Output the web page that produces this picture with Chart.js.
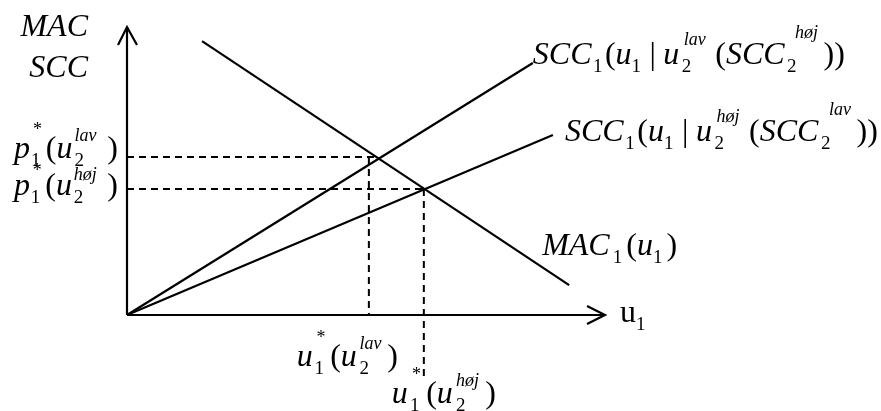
<!DOCTYPE html>
<html>
<head>
<meta charset="utf-8">
<script src="https://cdn.jsdelivr.net/npm/chart.js@4.4.1/dist/chart.umd.min.js"></script>
<style>
  html, body { margin: 0; padding: 0; background: #fff; }
</style>
</head>
<body>
<canvas id="chart" width="881" height="411"></canvas>
<script>
// ---- data (u1 on x, price on y, both 0..100) ----
const macCurve = [[15.7, 95.1], [92.5, 10.4]];   // MAC1(u1)
const sccLavCurve = [[0, 0], [84.9, 87.5]];      // SCC1(u1 | u2^lav(SCC2^høj))
const sccHojCurve = [[0, 0], [89.1, 62.5]];      // SCC1(u1 | u2^høj(SCC2^lav))
const priceLav = 54.9, priceHoj = 43.75;         // p1*(u2^lav), p1*(u2^høj)
const crossLavX = 52.5;                          // where the lav price guide ends
const uLav = 50.6, uHoj = 62.1;                  // u1*(u2^lav), u1*(u2^høj)
const hojDrop = -22.6;                           // høj guide runs on below the axis

const SERIF = '"Liberation Serif", "Times New Roman", serif';
const MAIN = 32, SUB = 19, SUP = 18;

// tiny rich-text helpers: italic, normal, script stack, gap
const I = (s, ls) => ({ m: s, i: true, ls: ls || 0 });
const N = (s) => ({ m: s, i: false, ls: 0 });
const S = (sb, sp, uy, spx) => ({ sb, sp, uy: uy || -17, spx: spx || 0 });
const G = (n) => ({ g: n });

function fnt(size, italic) { return (italic ? 'italic ' : '') + size + 'px ' + SERIF; }

function runLayout(ctx, toks, draw, x, y, extra) {
  let cx = x;
  const nGaps = toks.filter(t => t.g !== undefined).length || 1;
  for (const t of toks) {
    if (t.g !== undefined) { cx += t.g + extra / nGaps; continue; }
    if (t.m !== undefined) {
      ctx.font = fnt(MAIN, t.i);
      for (let k = 0; k < t.m.length; k++) {
        if (draw) ctx.fillText(t.m[k], cx, y);
        cx += ctx.measureText(t.m[k]).width + (k < t.m.length - 1 ? t.ls : 0);
      }
      continue;
    }
    let w = 0;
    if (t.sb) {
      ctx.font = fnt(SUB, false);
      if (draw) ctx.fillText(t.sb, cx, y + 8);
      w = Math.max(w, ctx.measureText(t.sb).width);
    }
    if (t.sp) {
      const roman = t.sp === '*';
      ctx.font = fnt(SUP, !roman);
      if (draw) ctx.fillText(t.sp, cx + t.spx, y + t.uy);
      w = Math.max(w, ctx.measureText(t.sp).width + t.spx);
    }
    cx += w;
  }
  return cx - x;
}

function drawRich(ctx, toks, x, y, opt) {
  opt = opt || {};
  const natural = runLayout(ctx, toks, false, 0, 0, 0);
  const extra = opt.w ? opt.w - natural : 0;
  const width = natural + extra;
  const sx = opt.align === 'right' ? x - width : x;
  runLayout(ctx, toks, true, sx, y, extra);
}

const pLavLabel = [I('p'), G(0), S('1', '*', -23, 2), G(3), N('('), I('u'), G(1), S('2', 'lav', -17), G(10), N(')')];
const pHojLabel = [I('p'), G(0), S('1', '*', -19, 2), G(3), N('('), I('u'), G(1), S('2', 'høj', -15), G(10), N(')')];
const uLavLabel = [I('u'), G(0), S('1', '*', -23, 2), G(3), N('('), I('u'), G(1), S('2', 'lav', -17), G(4), N(')')];
const uHojLabel = [I('u'), G(0), S('1', '*', -23, 2), G(3), N('('), I('u'), G(1), S('2', 'høj', -17), G(4), N(')')];
const sccLavLabel = [I('SCC'), G(0), S('1'), G(1), N('('), I('u'), S('1'), G(7), N('|'), G(6), I('u'), G(1),
  S('2', 'lav', -19, 2), G(8), N('('), I('SCC'), G(1), S('2', 'høj', -26, 8), G(4), N('))')];
const sccHojLabel = [I('SCC'), G(0), S('1'), G(1), N('('), I('u'), S('1'), G(7), N('|'), G(6), I('u'), G(1),
  S('2', 'høj', -19, 2), G(8), N('('), I('SCC'), G(1), S('2', 'lav', -26, 8), G(4), N('))')];
const macLabel = [I('MAC'), G(0), S('1'), G(1), N('('), I('u'), S('1'), G(1), N(')')];
const xLabel = [N('u'), S('1')];

// axes with open arrowheads plus all the formula labels
const diagramPlugin = {
  id: 'diagram',
  afterDatasetsDraw(chart) {
    const ctx = chart.ctx, xs = chart.scales.x, ys = chart.scales.y;
    const x0 = xs.getPixelForValue(0), y0 = ys.getPixelForValue(0);
    const xEnd = xs.getPixelForValue(100), yEnd = ys.getPixelForValue(100);
    ctx.save();
    ctx.strokeStyle = '#000';
    ctx.lineWidth = 2.2;
    ctx.lineCap = 'butt';
    ctx.beginPath();
    ctx.moveTo(x0, y0); ctx.lineTo(x0, yEnd);
    ctx.moveTo(x0, y0); ctx.lineTo(xEnd, y0);
    ctx.stroke();
    ctx.beginPath();
    ctx.moveTo(x0 - 9, yEnd + 18); ctx.lineTo(x0, yEnd); ctx.lineTo(x0 + 10, yEnd + 18);
    ctx.moveTo(xEnd - 18, y0 - 9); ctx.lineTo(xEnd, y0); ctx.lineTo(xEnd - 18, y0 + 9);
    ctx.stroke();

    ctx.fillStyle = '#000';
    ctx.textBaseline = 'alphabetic';
    ctx.textAlign = 'left';
    drawRich(ctx, [I('MAC')], x0 - 39, 36, { align: 'right' });
    drawRich(ctx, [I('SCC')], x0 - 39, 77, { align: 'right' });
    drawRich(ctx, pLavLabel, x0 - 9, ys.getPixelForValue(priceLav) + 1, { align: 'right', w: 104 });
    drawRich(ctx, pHojLabel, x0 - 9, ys.getPixelForValue(priceHoj) + 6, { align: 'right', w: 104 });
    drawRich(ctx, uLavLabel, xs.getPixelForValue(uLav) - 72, y0 + 51, { w: 101 });
    drawRich(ctx, uHojLabel, xs.getPixelForValue(uHoj) - 32, y0 + 88, { w: 104 });
    const lavEnd = sccLavCurve[sccLavCurve.length - 1];
    const hojEnd = sccHojCurve[sccHojCurve.length - 1];
    const macEnd = macCurve[macCurve.length - 1];
    drawRich(ctx, sccLavLabel, xs.getPixelForValue(lavEnd[0]), ys.getPixelForValue(lavEnd[1]) + 1, { w: 312 });
    drawRich(ctx, sccHojLabel, xs.getPixelForValue(hojEnd[0]) + 12, ys.getPixelForValue(hojEnd[1]) + 6, { w: 313 });
    drawRich(ctx, macLabel, xs.getPixelForValue(macEnd[0]) - 27, ys.getPixelForValue(macEnd[1]) - 30, { w: 135 });
    drawRich(ctx, xLabel, xEnd + 15, y0 + 7);
    ctx.restore();
  }
};

const pts = (arr) => arr.map(([x, y]) => ({ x, y }));
const solid = (arr) => ({
  data: pts(arr), showLine: true, borderColor: '#000', borderWidth: 2.2,
  pointRadius: 0, fill: false, tension: 0, clip: false
});
const dashed = (arr) => Object.assign(solid(arr), { borderDash: [7, 5], borderWidth: 2 });

new Chart(document.getElementById('chart'), {
  type: 'scatter',
  data: {
    datasets: [
      solid(macCurve),
      solid(sccLavCurve),
      solid(sccHojCurve),
      dashed([[0, priceLav], [crossLavX, priceLav]]),
      dashed([[uLav, priceLav], [uLav, 0]]),
      dashed([[0, priceHoj], [uHoj, priceHoj]]),
      dashed([[uHoj, priceHoj], [uHoj, hojDrop]])
    ]
  },
  options: {
    responsive: false,
    animation: false,
    devicePixelRatio: 1,
    layout: { padding: { left: 127, top: 27, right: 276, bottom: 96 } },
    scales: {
      x: { type: 'linear', min: 0, max: 100, display: false },
      y: { type: 'linear', min: 0, max: 100, display: false }
    },
    plugins: { legend: { display: false }, tooltip: { enabled: false } }
  },
  plugins: [diagramPlugin]
});
</script>
</body>
</html>
